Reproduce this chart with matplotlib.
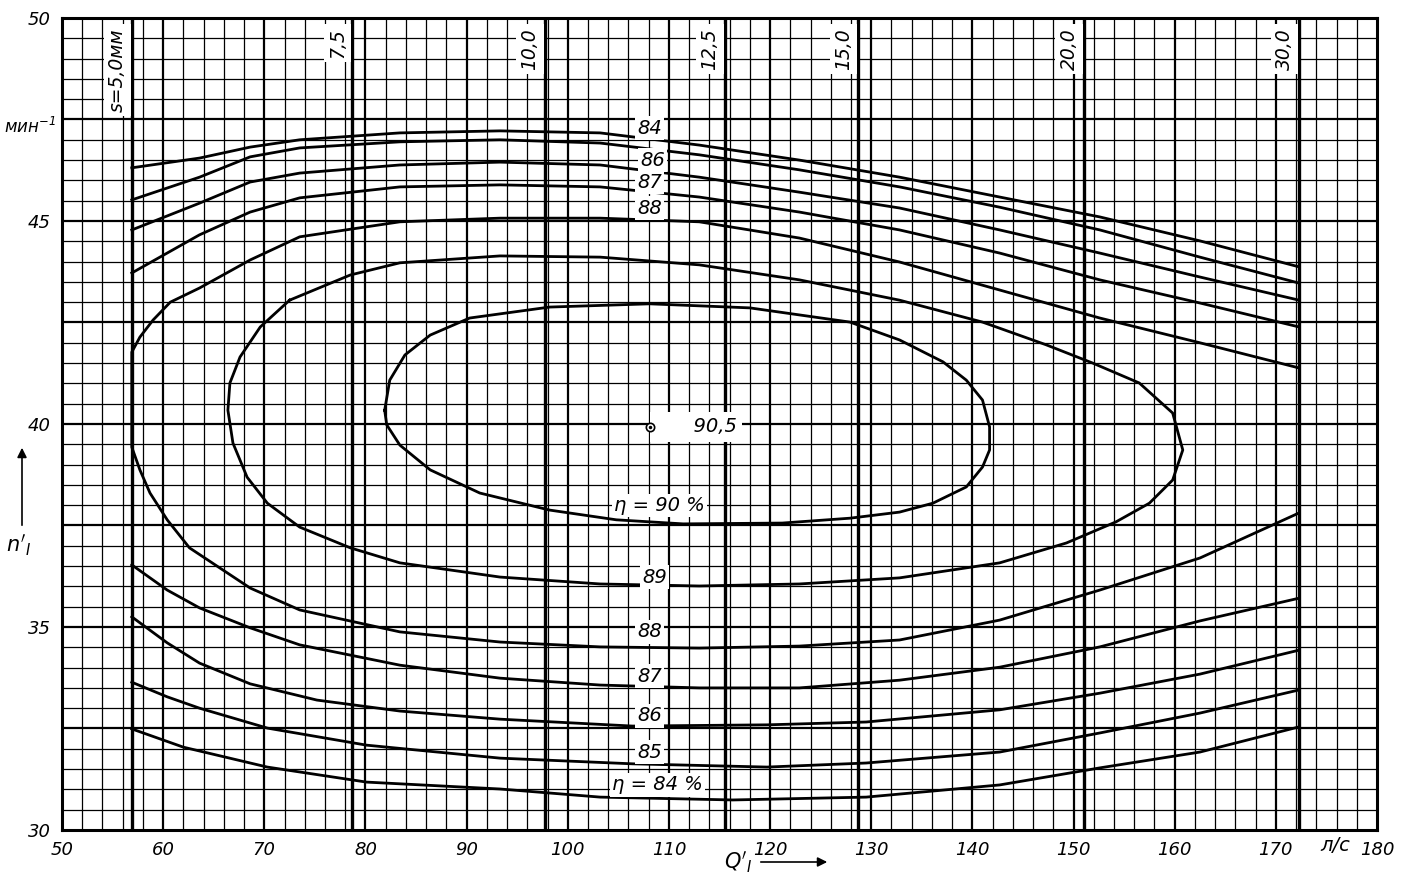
import matplotlib
matplotlib.use("Agg")
import matplotlib.pyplot as plt
import numpy as np

# hill chart of the turbine: Q'_I (l/s) vs n'_I (1/min), efficiency contours

# top branches (open, from s=5.0 line to s=30.0 line)
q_top = [56.9, 63.6, 68.6, 73.5, 83.4, 93.3, 103.2, 113.0, 122.9, 132.8, 142.7, 152.6, 162.5, 172.3]
n84_top = [46.31, 46.55, 46.82, 47.00, 47.17, 47.22, 47.17, 46.87, 46.50, 46.08, 45.59, 45.10, 44.51, 43.87]
n85_top = [45.52, 46.08, 46.58, 46.80, 46.95, 47.00, 46.92, 46.63, 46.26, 45.84, 45.34, 44.78, 44.11, 43.47]
n86_top = [44.78, 45.44, 45.96, 46.18, 46.38, 46.45, 46.38, 46.08, 45.71, 45.32, 44.78, 44.21, 43.62, 43.05]
n87_top = [43.72, 44.66, 45.22, 45.57, 45.84, 45.89, 45.84, 45.59, 45.22, 44.78, 44.21, 43.55, 42.98, 42.39]

# bottom branches
q87_bot = [56.9, 60.4, 63.6, 68.6, 73.5, 83.4, 93.3, 103.2, 113.0, 122.9, 132.8, 142.7, 152.6, 162.5, 172.3]
n87_bot = [36.53, 35.91, 35.47, 34.98, 34.56, 34.06, 33.74, 33.57, 33.50, 33.50, 33.69, 34.01, 34.51, 35.15, 35.71]
q86_bot = [56.9, 60.4, 63.6, 68.6, 75.2, 83.4, 93.3, 106.4, 119.7, 129.5, 142.7, 152.6, 162.5, 172.3]
n86_bot = [35.25, 34.61, 34.11, 33.60, 33.20, 32.93, 32.73, 32.56, 32.59, 32.66, 32.96, 33.37, 33.84, 34.43]
q85_bot = [56.9, 60.4, 63.6, 70.3, 80.1, 93.3, 106.4, 119.7, 129.5, 142.7, 152.6, 162.5, 172.3]
n85_bot = [33.64, 33.28, 33.00, 32.51, 32.09, 31.77, 31.63, 31.55, 31.65, 31.92, 32.39, 32.88, 33.45]
q84_bot = [56.9, 62.0, 70.3, 80.1, 93.3, 103.2, 116.3, 129.5, 142.7, 152.6, 162.5, 172.3]
n84_bot = [32.49, 32.04, 31.55, 31.18, 31.01, 30.81, 30.74, 30.81, 31.11, 31.53, 31.92, 32.54]

# 88 contour: top right end -> left boundary -> bottom right end
q88 = [172.3, 162.5, 152.6, 142.7, 132.8, 122.9, 113.0, 103.2, 93.3, 83.4, 73.5, 68.6, 63.6, 60.7, 59.0,
       57.7, 56.9, 56.9, 57.7, 58.7, 60.4, 62.6, 68.6, 73.5, 83.4, 93.3, 103.2, 113.0, 122.9, 132.8,
       142.7, 152.6, 162.5, 172.3]
n88 = [41.38, 42.00, 42.61, 43.30, 43.99, 44.58, 44.98, 45.07, 45.07, 44.98, 44.61, 44.04, 43.35, 43.00, 42.56,
       42.14, 41.77, 39.43, 38.87, 38.30, 37.64, 36.95, 35.96, 35.42, 34.88, 34.63, 34.51, 34.48, 34.53, 34.68,
       35.17, 35.91, 36.70, 37.81]

# 89 contour (closed)
q89 = [72.5, 78.5, 83.4, 93.3, 103.2, 113.0, 122.9, 132.8, 141.0, 147.3, 151.9, 156.5, 159.8, 160.8, 159.8,
       157.5, 154.2, 149.3, 142.7, 132.8, 122.9, 113.0, 103.2, 93.3, 83.4, 78.5, 73.5, 70.3, 68.3, 66.9,
       66.4, 66.6, 67.6, 69.6, 72.5]
n89 = [43.05, 43.67, 43.97, 44.14, 44.11, 43.92, 43.55, 43.05, 42.51, 41.95, 41.50, 41.01, 40.27, 39.36, 38.62,
       38.05, 37.59, 37.07, 36.58, 36.21, 36.06, 36.01, 36.06, 36.23, 36.58, 36.95, 37.46, 38.05, 38.69, 39.53,
       40.34, 41.01, 41.65, 42.39, 43.05]

# 90 contour (closed)
q90 = [81.9, 82.4, 83.9, 86.4, 90.3, 98.2, 108.1, 118.0, 127.9, 132.8, 137.1, 139.4, 141.0, 141.7, 141.7,
       141.0, 139.4, 136.1, 132.8, 127.9, 121.2, 111.4, 104.8, 98.2, 91.3, 86.4, 83.4, 82.1, 81.9]
n90 = [40.34, 41.08, 41.70, 42.19, 42.61, 42.88, 42.96, 42.86, 42.51, 42.07, 41.53, 41.08, 40.59, 39.93, 39.36,
       38.94, 38.45, 38.05, 37.83, 37.68, 37.56, 37.54, 37.64, 37.88, 38.30, 38.87, 39.48, 39.98, 40.34]

best_q, best_n = 108.1, 39.93

# blade opening lines s, mm
s_q = [56.9, 78.7, 97.7, 115.5, 128.7, 151.0, 172.3]
s_labels = ["s=5,0мм", "7,5", "10,0", "12,5", "15,0", "20,0", "30,0"]

x_ticks = list(range(50, 181, 10))
y_ticks = [30, 35, 40, 45, 50]


def main():
    plt.rcParams['font.family'] = ['DejaVu Sans']
    plt.rcParams['font.style'] = 'italic'
    plt.rcParams['mathtext.fontset'] = 'dejavusans'

    fig = plt.figure(figsize=(14.1, 8.88), dpi=100)
    ax = fig.add_axes([62 / 1410, 1 - 830 / 888, (1377 - 62) / 1410, (830 - 18) / 888])
    ax.set_xlim(50, 180)
    ax.set_ylim(30, 50)

    # paper grid
    for q in np.arange(52, 180, 2):
        ax.axvline(q, color='black', lw=1.6 if q % 10 == 0 else 0.9, zorder=1)
    for n in np.arange(30.5, 50, 0.5):
        ax.axhline(n, color='black', lw=1.6 if n % 2.5 == 0 else 0.9, zorder=1)

    for s, lab in zip(s_q, s_labels):
        ax.axvline(s, color='black', lw=2.4, zorder=2)
        ax.text(s - 0.5, 49.75, lab, rotation=90, ha='right', va='top', fontsize=13.5,
                bbox=dict(facecolor='white', edgecolor='none', pad=3), zorder=4)

    style = dict(color='black', lw=2.0, zorder=3)
    for nn in [n84_top, n85_top, n86_top, n87_top]:
        ax.plot(q_top, nn, **style)
    ax.plot(q87_bot, n87_bot, **style)
    ax.plot(q86_bot, n86_bot, **style)
    ax.plot(q85_bot, n85_bot, **style)
    ax.plot(q84_bot, n84_bot, **style)
    ax.plot(q88, n88, **style)
    ax.plot(q89, n89, **style)
    ax.plot(q90, n90, **style)

    box = dict(facecolor='white', edgecolor='none', pad=1.5)
    labels = [(108.1, 47.29, "84"), (108.4, 46.50, "86"), (108.1, 45.94, "87"), (108.1, 45.32, "88"),
              (109.1, 38.0, "η = 90 %"), (108.6, 36.23, "89"), (108.1, 34.88, "88"),
              (108.1, 33.79, "87"), (108.1, 32.81, "86"), (108.1, 31.92, "85"),
              (108.9, 31.11, "η = 84 %")]
    for x, y, t in labels:
        ax.text(x, y, t, ha='center', va='center', fontsize=14, bbox=box, zorder=4)

    ax.text(best_q + 0.6, best_n, "      90,5", ha='left', va='center', fontsize=14,
            bbox=dict(facecolor='white', edgecolor='none', pad=4), zorder=4)
    ax.plot(best_q, best_n, marker='o', ms=6, mfc='white', mec='black', mew=1.2, zorder=5)
    ax.plot(best_q, best_n, marker='.', ms=3, color='black', zorder=6)

    for sp in ax.spines.values():
        sp.set_linewidth(2.2)
    ax.set_xticks(x_ticks)
    ax.set_yticks(y_ticks)
    ax.tick_params(length=0, labelsize=13, pad=8)

    fig.text(1335 / 1410, 1 - 845 / 888, "л/с", ha='center', va='center', fontsize=14)
    fig.text(30 / 1410, 1 - 127 / 888, "мин$^{-1}$", ha='center', va='center', fontsize=12)
    fig.text(18 / 1410, 1 - 545 / 888, "$n'_I$", ha='center', va='center', fontsize=15)
    fig.text(738 / 1410, 1 - 862 / 888, "$Q'_I$", ha='center', va='center', fontsize=15)
    fig.patches.append(matplotlib.patches.FancyArrowPatch(
        (22 / 1410, 1 - 528 / 888), (22 / 1410, 1 - 445 / 888), transform=fig.transFigure,
        arrowstyle='-|>', mutation_scale=14, color='black', lw=1.2))
    fig.patches.append(matplotlib.patches.FancyArrowPatch(
        (758 / 1410, 1 - 862 / 888), (830 / 1410, 1 - 862 / 888), transform=fig.transFigure,
        arrowstyle='-|>', mutation_scale=14, color='black', lw=1.2))

    fig.savefig("out.png", dpi=100, facecolor='white')


if __name__ == '__main__':
    main()
